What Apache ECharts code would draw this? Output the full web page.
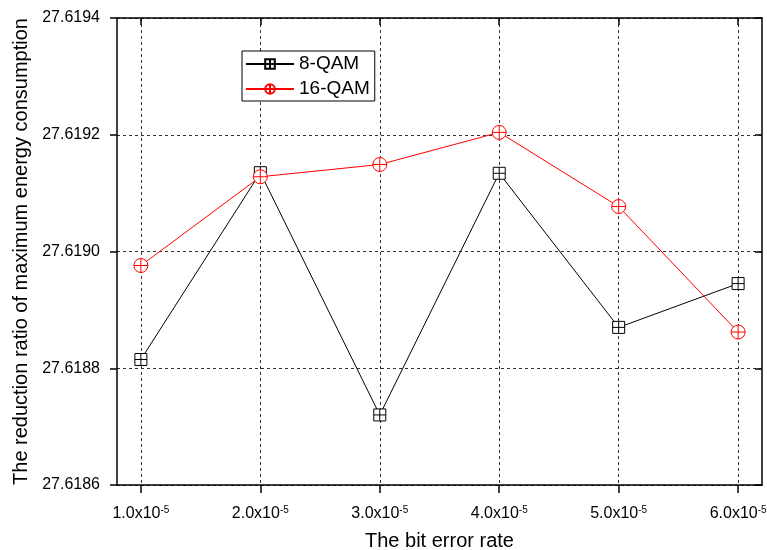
<!DOCTYPE html>
<html>
<head>
<meta charset="utf-8">
<script src="https://cdn.jsdelivr.net/npm/echarts@6/dist/echarts.min.js"></script>
<style>
html,body{margin:0;padding:0;background:#fff;}
#chart{width:767px;height:550px;}
</style>
</head>
<body>
<div id="chart"></div>
<script>
const xValues = [1, 2, 3, 4, 5, 6];
const xTickValues = [1, 2, 3, 4, 5, 6];
const yTickValues = [27.6186, 27.6188, 27.6190, 27.6192, 27.6194];
const qam8 = [27.618815, 27.619135, 27.61872, 27.619134, 27.61887, 27.618945];
const qam16 = [27.618976, 27.619128, 27.619149, 27.619204, 27.619077, 27.618862];
const seriesNames = ['8-QAM', '16-QAM'];

const FONT = 'Liberation Sans, Arial, Helvetica, sans-serif';
const squarePlus = 'path://M0 0H10V10H0ZM5 0V10M0 5H10';
const circlePlus = 'path://M10 5A5 5 0 1 1 0 5A5 5 0 1 1 10 5ZM5 0V10M0 5H10';

const chart = echarts.init(document.getElementById('chart'), null, {renderer: 'canvas'});

const xRange = {min: 0.8, max: 6.2};
const yRange = {min: 27.6186, max: 27.6194};

chart.setOption({
  animation: false,
  backgroundColor: '#fff',
  textStyle: {fontFamily: FONT, color: '#000'},
  grid: {left: 117, right: 5, top: 18, bottom: 65, containLabel: false, outerBoundsMode: 'none'},
  legend: {
    orient: 'vertical',
    left: 242, top: 51,
    data: seriesNames,
    borderColor: '#000', borderWidth: 1,
    padding: [3, 5, 2, 3],
    itemGap: 5,
    itemWidth: 48, itemHeight: 12,
    textStyle: {fontFamily: FONT, fontSize: 19, color: '#000', lineHeight: 20},
    backgroundColor: '#fff'
  },
  xAxis: [{
    type: 'value', ...xRange,
    name: 'The bit error rate', nameLocation: 'middle', nameGap: 46,
    nameTextStyle: {fontFamily: FONT, fontSize: 20, color: '#000'},
    axisLine: {show: true, onZero: false, lineStyle: {color: '#000', width: 1.5}},
    axisTick: {show: true, inside: false, length: 8, customValues: xTickValues, lineStyle: {color: '#000', width: 1.5}},
    axisLabel: {
      customValues: xTickValues, margin: 20, color: '#000',
      formatter: v => '{a|' + v.toFixed(1) + 'x10}{b|-5}',
      rich: {
        a: {fontFamily: FONT, fontSize: 16, color: '#000', lineHeight: 18},
        b: {fontFamily: FONT, fontSize: 10, color: '#000', verticalAlign: 'top', lineHeight: 10}
      }
    },
    splitLine: {show: true, lineStyle: {color: '#333', width: 1, type: [3, 3]}}
  }, {
    type: 'value', ...xRange, position: 'top',
    axisLine: {show: true, onZero: false, lineStyle: {color: '#000', width: 1.5}},
    axisTick: {show: true, inside: true, length: 7, customValues: xTickValues, lineStyle: {color: '#000', width: 1.5}},
    axisLabel: {show: false},
    splitLine: {show: false}
  }],
  yAxis: [{
    type: 'value', ...yRange,
    name: 'The reduction ratio of maximum energy consumption', nameLocation: 'middle', nameGap: 86,
    nameTextStyle: {fontFamily: FONT, fontSize: 20, color: '#000'},
    axisLine: {show: true, onZero: false, lineStyle: {color: '#000', width: 1.5}},
    axisTick: {show: true, inside: false, length: 7, customValues: yTickValues, lineStyle: {color: '#000', width: 1.5}},
    axisLabel: {
      customValues: yTickValues, margin: 17,
      fontFamily: FONT, fontSize: 16, color: '#000',
      formatter: v => v.toFixed(4)
    },
    splitLine: {show: true, lineStyle: {color: '#333', width: 1, type: [3, 3]}}
  }, {
    type: 'value', ...yRange, position: 'right',
    axisLine: {show: true, onZero: false, lineStyle: {color: '#000', width: 1.5}},
    axisTick: {show: true, inside: true, length: 7, customValues: yTickValues, lineStyle: {color: '#000', width: 1.5}},
    axisLabel: {show: false},
    splitLine: {show: false}
  }],
  series: [{
    name: seriesNames[0], type: 'line',
    data: xValues.map((x, i) => [x, qam8[i]]),
    symbol: squarePlus, symbolSize: 12,
    showAllSymbol: true,
    lineStyle: {color: '#000', width: 1},
    itemStyle: {color: '#fff', borderColor: '#000', borderWidth: 1},
    emphasis: {disabled: true},
    z: 3
  }, {
    name: seriesNames[1], type: 'line',
    data: xValues.map((x, i) => [x, qam16[i]]),
    symbol: circlePlus, symbolSize: 14,
    showAllSymbol: true,
    lineStyle: {color: '#ff0000', width: 1},
    itemStyle: {color: '#fff', borderColor: '#ff0000', borderWidth: 1},
    emphasis: {disabled: true},
    z: 4
  }]
});
</script>
</body>
</html>
